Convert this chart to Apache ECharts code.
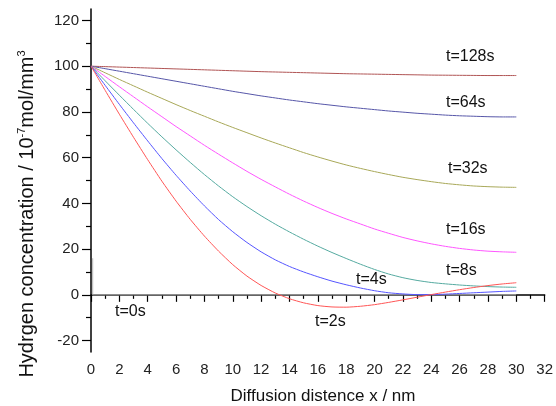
<!DOCTYPE html>
<html><head><meta charset="utf-8">
<script src="https://cdn.jsdelivr.net/npm/echarts@6/dist/echarts.min.js"></script>
<style>html,body{margin:0;padding:0;background:#fff}#c{width:556px;height:406px}</style>
</head><body><div id="c"></div>
<script>
var xs = [0,1,2,3,4,5,6,7,8,9,10,11,12,13,14,15,16,17,18,19,20,21,22,23,24,25,26,27,28,29,30];
var t128 = [100,99.8,99.6,99.4,99.2,99.0,98.8,98.6,98.4,98.2,98.0,97.8,97.6,97.45,97.3,97.15,97.0,96.85,96.7,96.6,96.5,96.4,96.3,96.2,96.1,96.05,96.0,95.95,95.9,95.9,95.9];
var t64 = [100,98.9,97.8,96.7,95.6,94.5,93.4,92.3,91.2,90.1,89.0,88.0,87.0,86.1,85.2,84.4,83.6,82.9,82.2,81.6,81.0,80.4,79.9,79.4,79.0,78.6,78.3,78.1,77.9,77.8,77.8];
var t32 = [100,97.1,94.2,91.4,88.6,85.9,83.2,80.6,78.1,75.6,73.2,70.9,68.6,66.4,64.3,62.2,60.3,58.5,56.8,55.3,53.9,52.6,51.4,50.4,49.5,48.7,48.1,47.6,47.3,47.1,47.0];
var t16 = [100,95.5,91.0,86.6,82.2,77.9,73.6,69.5,65.4,61.5,57.7,54.0,50.5,47.2,44.0,41.0,38.2,35.6,33.2,31.0,28.8,26.9,25.1,23.6,22.3,21.2,20.3,19.6,19.1,18.8,18.6];
var t8 = [100,93.6,87.3,81.1,75.0,69.1,63.4,57.9,52.6,47.6,42.9,38.6,34.6,30.9,27.5,24.3,21.3,18.5,15.9,13.4,11.1,9.1,7.5,6.3,5.4,4.8,4.3,3.9,3.6,3.4,3.3];
var t4 = [100,91.6,83.3,75.2,67.3,59.6,52.3,45.4,38.9,32.9,27.6,22.9,18.8,15.3,12.4,10.0,7.9,6.0,4.4,3.0,1.8,0.9,0.4,0.1,0.1,0.3,0.6,0.9,1.2,1.5,1.7];
var t2 = [100,89.4,79.0,68.9,59.1,49.7,41.0,33.0,25.7,19.1,13.2,8.2,4.1,0.8,-1.7,-3.5,-4.7,-5.3,-5.4,-5.0,-4.3,-3.3,-2.2,-1.05,0.1,1.2,2.25,3.2,4.05,4.75,5.3];
var t0x = [0.12,0.12,30];
var t0 = [16,0,0];
var xTicks = [0,2,4,6,8,10,12,14,16,18,20,22,24,26,28,30,32];
var yTicks = [-20,0,20,40,60,80,100,120];
var yMinorTicks = [-10,10,30,50,70,90,110];

var FONT = 'Liberation Sans, Arial, sans-serif';
function pts(ys){ return xs.map(function(x,i){ return [x, ys[i]]; }); }
function ser(name, ys, color){
  return {name:name, type:'line', data:pts(ys), showSymbol:false, smooth:0.2,
    lineStyle:{color:color, width:1}, itemStyle:{color:color}, z:3};
}
var chart = echarts.init(document.getElementById('c'), null, {renderer:'canvas'});
chart.setOption({
  animation:false,
  grid:{left:91, right:7, top:9, bottom:54, containLabel:false},
  xAxis:{type:'value', min:0, max:32, interval:2,
    axisLine:{lineStyle:{color:'#000', width:1.5}},
    axisTick:{show:true, inside:false, length:7, lineStyle:{color:'#000', width:1.2}},
    minorTick:{show:true, splitNumber:2, length:4, lineStyle:{color:'#000', width:1.2}},
    splitLine:{show:false}, minorSplitLine:{show:false},
    axisLabel:{fontSize:15, color:'#222', margin:10, fontFamily:FONT,
      formatter:function(v){ return xTicks.indexOf(v) >= 0 ? String(v) : ''; }}
  },
  yAxis:[{type:'value', min:-25, max:125, position:'left',
    axisLine:{show:true, lineStyle:{color:'#000', width:1.5}},
    axisTick:{show:true, inside:false, length:9, customValues:yTicks, lineStyle:{color:'#000', width:1.2}},
    splitLine:{show:false},
    axisLabel:{fontSize:15, color:'#222', margin:12, fontFamily:FONT, customValues:yTicks}
  },{type:'value', min:-25, max:125, position:'left', offset:0,
    axisLine:{show:false},
    axisTick:{show:true, inside:false, length:5, customValues:yMinorTicks, lineStyle:{color:'#000', width:1.2}},
    splitLine:{show:false},
    axisLabel:{show:false}
  }],
  series:[
    {name:'t=0s', type:'line', data:t0x.map(function(x,i){return [x,t0[i]];}), showSymbol:false,
      lineStyle:{color:'#b4b4b4', width:1}, z:2},
    ser('t=128s', t128, '#b05454'),
    ser('t=64s', t64, '#5656a8'),
    ser('t=32s', t32, '#a8a858'),
    ser('t=16s', t16, '#ff55ff'),
    ser('t=8s', t8, '#55aaa0'),
    ser('t=4s', t4, '#5555ff'),
    ser('t=2s', t2, '#ff5555')
  ],
  graphic:[
    {type:'text', x:446, y:57, style:{text:'t=128s', font:'16px '+FONT, fill:'#111', textAlign:'left', textVerticalAlign:'middle'}},
    {type:'text', x:446, y:103, style:{text:'t=64s', font:'16px '+FONT, fill:'#111', textAlign:'left', textVerticalAlign:'middle'}},
    {type:'text', x:448, y:169, style:{text:'t=32s', font:'16px '+FONT, fill:'#111', textAlign:'left', textVerticalAlign:'middle'}},
    {type:'text', x:446, y:230, style:{text:'t=16s', font:'16px '+FONT, fill:'#111', textAlign:'left', textVerticalAlign:'middle'}},
    {type:'text', x:446, y:271, style:{text:'t=8s', font:'16px '+FONT, fill:'#111', textAlign:'left', textVerticalAlign:'middle'}},
    {type:'text', x:356, y:280, style:{text:'t=4s', font:'16px '+FONT, fill:'#111', textAlign:'left', textVerticalAlign:'middle'}},
    {type:'text', x:315, y:322, style:{text:'t=2s', font:'16px '+FONT, fill:'#111', textAlign:'left', textVerticalAlign:'middle'}},
    {type:'text', x:115, y:312, style:{text:'t=0s', font:'16px '+FONT, fill:'#111', textAlign:'left', textVerticalAlign:'middle'}},
    {type:'text', x:323, y:396, style:{text:'Diffusion distence x / nm', font:'17px '+FONT, fill:'#111', textAlign:'center', textVerticalAlign:'middle'}},
    {type:'text', x:27, y:214, rotation:Math.PI/2,
      style:{text:'Hydrgen concentration / 10{sup|-7}mol/mm{sup|3}', font:'20px '+FONT, fill:'#111',
        textAlign:'center', textVerticalAlign:'middle',
        rich:{sup:{fontSize:11, fontFamily:FONT, fill:'#111', verticalAlign:'top', padding:[0,0,10,0]}}}}
  ]
});
</script></body></html>
